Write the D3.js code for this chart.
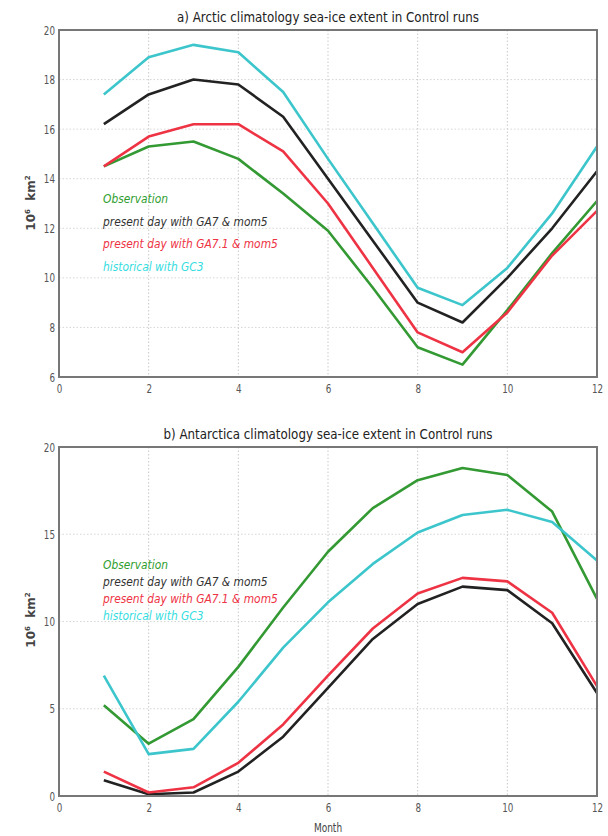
<!DOCTYPE html>
<html>
<head>
<meta charset="utf-8">
<script src="https://cdn.jsdelivr.net/npm/d3@7"></script>
<style>
  body { margin: 0; background: #fff; }
  svg { font-family: 'DejaVu Sans', sans-serif; }
</style>
</head>
<body>
<svg width="608" height="836"></svg>
<script>
const months = [1, 2, 3, 4, 5, 6, 7, 8, 9, 10, 11, 12];
const seriesNames = ["Observation", "present day with GA7 & mom5", "present day with GA7.1 & mom5", "historical with GC3"];
const seriesColors = ["#339933", "#222222", "#ee3344", "#3cc6cc"];
const legendColors = ["#2f9e2f", "#333333", "#ee3344", "#33dde0"];

// Arctic, 10^6 km^2
const arcticObs   = [14.5, 15.3, 15.5, 14.8, 13.4, 11.9, 9.6, 7.2, 6.5, 8.7, 11.0, 13.1];
const arcticGA7   = [16.2, 17.4, 18.0, 17.8, 16.5, 14.0, 11.5, 9.0, 8.2, 10.0, 12.0, 14.3];
const arcticGA71  = [14.5, 15.7, 16.2, 16.2, 15.1, 13.0, 10.4, 7.8, 7.0, 8.6, 10.9, 12.7];
const arcticGC3   = [17.4, 18.9, 19.4, 19.1, 17.5, 14.8, 12.2, 9.6, 8.9, 10.4, 12.6, 15.3];

// Antarctic, 10^6 km^2
const antarcObs   = [5.2, 3.0, 4.4, 7.4, 10.8, 14.0, 16.5, 18.1, 18.8, 18.4, 16.3, 11.3];
const antarcGA7   = [0.9, 0.1, 0.2, 1.4, 3.4, 6.2, 9.0, 11.0, 12.0, 11.8, 9.9, 5.9];
const antarcGA71  = [1.4, 0.2, 0.5, 1.9, 4.1, 6.9, 9.6, 11.6, 12.5, 12.3, 10.5, 6.3];
const antarcGC3   = [6.9, 2.4, 2.7, 5.4, 8.5, 11.1, 13.3, 15.1, 16.1, 16.4, 15.7, 13.5];

const xTicks = [0, 2, 4, 6, 8, 10, 12];
const arcticTicks = [6, 8, 10, 12, 14, 16, 18, 20];
const antarcTicks = [0, 5, 10, 15, 20];

const svg = d3.select('svg');
const left = 59, right = 597;

// squeeze text horizontally, the original looks condensed
function condense(sel, k) {
  sel.each(function() {
    const w = this.getComputedTextLength();
    d3.select(this).attr('textLength', w * k).attr('lengthAdjust', 'spacingAndGlyphs');
  });
}

function drawPanel(opt) {
  const x = d3.scaleLinear().domain([0, 12]).range([left, right]);
  const y = d3.scaleLinear().domain(opt.domain).range([opt.bottom, opt.top]);
  const g = svg.append('g');

  // grid
  g.selectAll('line.gx').data(xTicks.slice(1, -1)).enter().append('line')
    .attr('x1', d => x(d)).attr('x2', d => x(d))
    .attr('y1', opt.top).attr('y2', opt.bottom)
    .style('stroke', '#bbb').style('stroke-width', 0.8).style('stroke-dasharray', '1.5,2');
  g.selectAll('line.gy').data(opt.ticks.slice(1, -1)).enter().append('line')
    .attr('x1', left).attr('x2', right)
    .attr('y1', d => y(d)).attr('y2', d => y(d))
    .style('stroke', '#ccc').style('stroke-width', 0.8).style('stroke-dasharray', '1.5,2');

  // lines
  const line = d3.line().x((d, i) => x(months[i])).y(d => y(d));
  g.selectAll('path.series').data(opt.series).enter().append('path')
    .attr('d', line)
    .style('fill', 'none')
    .style('stroke', (d, i) => seriesColors[i])
    .style('stroke-width', 2.6)
    .style('stroke-linejoin', 'round');

  // frame
  g.append('rect')
    .attr('x', left).attr('y', opt.top)
    .attr('width', right - left).attr('height', opt.bottom - opt.top)
    .style('fill', 'none').style('stroke', '#777').style('stroke-width', 2);

  // axes
  const xAxis = g.append('g').attr('transform', `translate(0,${opt.bottom})`)
    .call(d3.axisBottom(x).tickValues(xTicks).tickSize(0).tickPadding(7));
  const yAxis = g.append('g').attr('transform', `translate(${left},0)`)
    .call(d3.axisLeft(y).tickValues(opt.ticks).tickSize(0).tickPadding(4));
  [xAxis, yAxis].forEach(a => {
    a.select('.domain').remove();
    a.selectAll('text').style('fill', '#555').style('font-size', '12.5px')
      .style('font-family', "'DejaVu Sans', sans-serif");
    condense(a.selectAll('text'), 0.7);
  });

  // title
  const t = g.append('text')
    .attr('x', 328).attr('y', opt.top - 8)
    .attr('text-anchor', 'middle')
    .style('font-size', '14px').style('fill', '#222')
    .text(opt.title);
  condense(t, 0.85);

  // y label
  const yl = g.append('text')
    .attr('transform', `translate(35,${opt.labelY}) rotate(-90)`)
    .attr('text-anchor', 'middle')
    .style('font-size', '12px').style('font-weight', 'bold').style('fill', '#444');
  yl.append('tspan').text('10');
  yl.append('tspan').text('6').attr('dy', -5).style('font-size', '7px');
  yl.append('tspan').text('\u00a0\u00a0km').attr('dy', 5);
  yl.append('tspan').text('2').attr('dy', -5).style('font-size', '7px');

  // legend
  const leg = g.selectAll('text.leg').data(seriesNames).enter().append('text')
    .attr('x', 103)
    .attr('y', (d, i) => opt.legendY + i * opt.legendStep)
    .style('font-size', '13px').style('font-style', 'italic')
    .style('fill', (d, i) => legendColors[i])
    .text(d => d);
  condense(leg, 0.82);

  return g;
}

drawPanel({
  title: 'a) Arctic climatology sea-ice extent in Control runs',
  domain: [6, 20], ticks: arcticTicks, top: 30, bottom: 377,
  series: [arcticObs, arcticGA7, arcticGA71, arcticGC3],
  legendY: 203, legendStep: 22.5, labelY: 203
});

drawPanel({
  title: 'b) Antarctica climatology sea-ice extent in Control runs',
  domain: [0, 20], ticks: antarcTicks, top: 447, bottom: 796,
  series: [antarcObs, antarcGA7, antarcGA71, antarcGC3],
  legendY: 569, legendStep: 17, labelY: 620
});

const ml = svg.append('text')
  .attr('x', 328).attr('y', 832)
  .attr('text-anchor', 'middle')
  .style('font-size', '12px').style('fill', '#444')
  .text('Month');
condense(ml, 0.75);
</script>
</body>
</html>
